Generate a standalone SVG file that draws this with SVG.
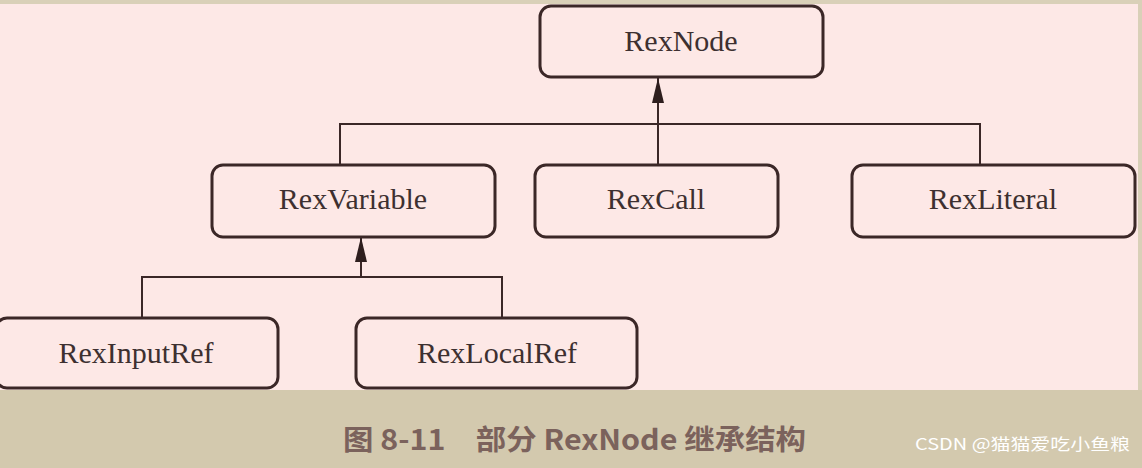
<svg xmlns="http://www.w3.org/2000/svg" width="1142" height="468" viewBox="0 0 1142 468">
<defs>
<style>
.box{fill:#fde8e6;stroke:#3b2727;stroke-width:3}
.lbl{font-family:"Liberation Serif","Times New Roman",serif;font-size:30px;fill:#3d3030;text-anchor:middle}
.conn{fill:none;stroke:#3b2727;stroke-width:2}
</style>
<marker id="tri" viewBox="0 0 25 12" refX="25" refY="6" markerWidth="25" markerHeight="12" markerUnits="userSpaceOnUse" orient="auto">
<path d="M0,0 L25,6 L0,12 Z" fill="#2e1e1e"/>
</marker>
</defs>
<rect x="0" y="0" width="1142" height="468" fill="#fde8e6"/>
<rect x="0" y="0" width="1142" height="4" fill="#d9d0b8"/>
<rect x="1138" y="0" width="4" height="468" fill="#d9d0b8"/>
<rect x="0" y="390" width="1142" height="78" fill="#d3c9ae"/>
<g id="connectors">
<path class="conn" d="M340,165 V124 H980 V165"/>
<path class="conn" d="M658,165 V78" marker-end="url(#tri)"/>
<path class="conn" d="M142,318 V277 H502 V318"/>
<path class="conn" d="M361,277 V237" marker-end="url(#tri)"/>
</g>
<g id="RexNode"><rect class="box" x="540" y="6" width="283" height="71" rx="11"/><text class="lbl" x="681" y="51">RexNode</text></g>
<g id="RexVariable"><rect class="box" x="212" y="165" width="283" height="72" rx="11"/><text class="lbl" x="353" y="209">RexVariable</text></g>
<g id="RexCall"><rect class="box" x="535" y="165" width="243" height="72" rx="11"/><text class="lbl" x="656" y="209">RexCall</text></g>
<g id="RexLiteral"><rect class="box" x="852" y="165" width="283" height="72" rx="11"/><text class="lbl" x="993" y="209">RexLiteral</text></g>
<g id="RexInputRef"><rect class="box" x="-4" y="318" width="282" height="70" rx="11"/><text class="lbl" x="136" y="363">RexInputRef</text></g>
<g id="RexLocalRef"><rect class="box" x="356" y="318" width="281" height="70" rx="11"/><text class="lbl" x="497" y="363">RexLocalRef</text></g>
<text x="343" y="450" font-family="'Noto Sans CJK SC',sans-serif" font-size="28" font-weight="bold" fill="#7b625c" textLength="463" lengthAdjust="spacingAndGlyphs">图 8-11　部分 RexNode 继承结构</text>
<text x="915" y="450" font-family="'Noto Sans CJK SC',sans-serif" font-size="16" fill="#ffffff" textLength="215" lengthAdjust="spacingAndGlyphs">CSDN @猫猫爱吃小鱼粮</text>
</svg>
